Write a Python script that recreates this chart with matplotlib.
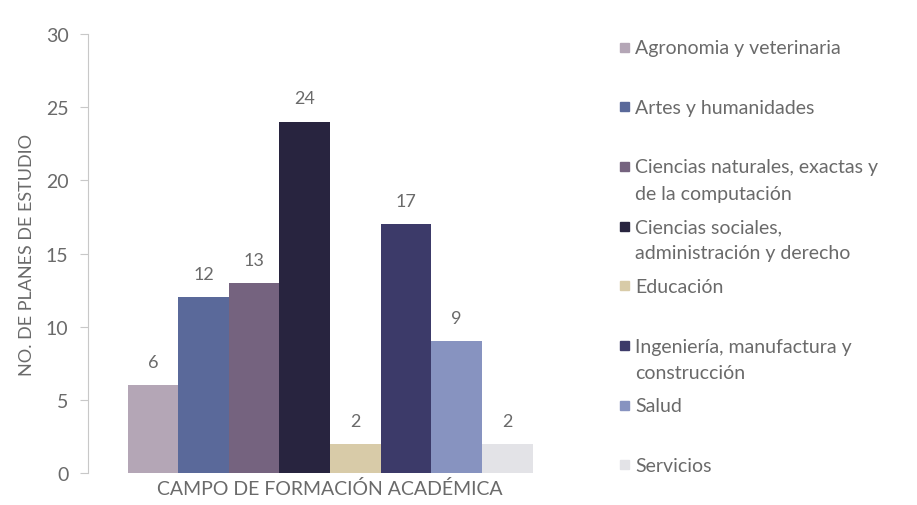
import matplotlib.pyplot as plt
from matplotlib.patches import Rectangle

plt.rcParams['font.family'] = ['Lato', 'DejaVu Sans']

# datos
campos = ['Agronomia y veterinaria', 'Artes y humanidades',
          'Ciencias naturales, exactas y\nde la computación',
          'Ciencias sociales,\nadministración y derecho', 'Educación',
          'Ingeniería, manufactura y\nconstrucción', 'Salud', 'Servicios']
planes = [6, 12, 13, 24, 2, 17, 9, 2]
colores = ['#b4a6b6', '#5a699a', '#75637f', '#28243f',
           '#d8cba8', '#3c3a69', '#8793c0', '#e3e3e7']

gris = '#6a6a6a'

fig = plt.figure(figsize=(9.17, 5.06), dpi=100)
ax = fig.add_axes([0.096, 0.063, 0.528, 0.868])

ancho = 1 / len(planes)
for i, (v, c) in enumerate(zip(planes, colores)):
    x = -0.5 + ancho * (i + 0.5)
    ax.bar(x, v, ancho, color=c)
    ax.annotate(str(v), xy=(x, v), xytext=(0, 11), textcoords='offset points',
                ha='center', va='bottom', color=gris, fontsize=13)

ax.set_xlim(-0.5976, 0.5976)
ax.set_ylim(0, 30)
ax.set_yticks(range(0, 31, 5))
ax.set_xticks([])
for s in ['top', 'right', 'bottom']:
    ax.spines[s].set_visible(False)
ax.spines['left'].set_color('#c8c8c8')
ax.tick_params(axis='y', colors='#c8c8c8', labelcolor=gris, labelsize=14,
               length=6, pad=8)

ax.set_xlabel('CAMPO DE FORMACIÓN ACADÉMICA', color=gris, fontsize=14, labelpad=4)
ax.set_ylabel('NO. DE PLANES DE ESTUDIO', color=gris, fontsize=13, labelpad=8)

# leyenda
y0, paso = 48, 59.7
for i, (nombre, c) in enumerate(zip(campos, colores)):
    y = y0 + paso * i
    fy = 1 - y / 506
    fig.patches.append(Rectangle((620 / 917, fy - 4.5 / 506), 9 / 917, 9 / 506,
                                 transform=fig.transFigure, color=c))
    fig.text(635 / 917, fy + 8 / 506, nombre, color=gris, fontsize=14,
             ha='left', va='top', linespacing=1.65)

fig.savefig('out.png', dpi=100)
